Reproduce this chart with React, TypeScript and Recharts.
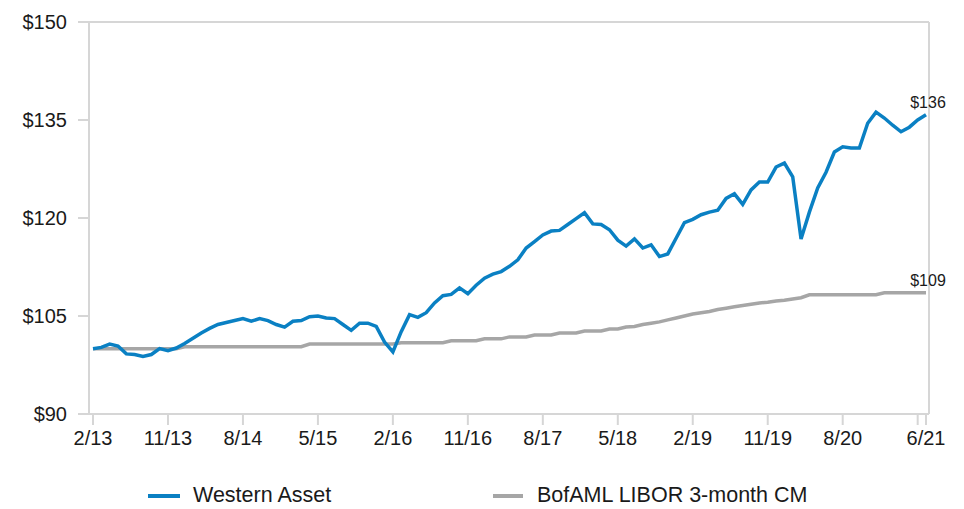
import React from 'react';
import { LineChart, Line, XAxis, YAxis, Legend, CartesianGrid } from 'recharts';

// month labels 2/13 .. 6/21
const months: string[] = [];
for (let y = 2013, m = 2; y < 2021 || (y === 2021 && m <= 6); m++) {
  if (m > 12) { m = 1; y++; }
  months.push(`${m}/${String(y).slice(2)}`);
}

const westernAsset = [
  100.0, 100.2, 100.7, 100.4, 99.2, 99.1, 98.8, 99.1, 100.0, 99.7,
  100.1, 100.8, 101.6, 102.4, 103.1, 103.7, 104.0, 104.3, 104.6, 104.2,
  104.6, 104.3, 103.7, 103.3, 104.2, 104.3, 104.9, 105.0, 104.7, 104.6,
  103.7, 102.8, 103.9, 103.9, 103.4, 101.0, 99.5, 102.6, 105.2, 104.8,
  105.5, 107.0, 108.1, 108.3, 109.3, 108.4, 109.7, 110.8, 111.4, 111.8,
  112.6, 113.6, 115.4, 116.4, 117.4, 118.0, 118.1, 119.0, 119.9, 120.8,
  119.1, 119.0, 118.2, 116.6, 115.7, 116.8, 115.4, 115.9, 114.1, 114.5,
  116.9, 119.3, 119.8, 120.5, 120.9, 121.2, 123.0, 123.7, 122.1, 124.3,
  125.5, 125.5, 127.8, 128.4, 126.3, 116.8, 120.9, 124.6, 127.0, 130.1,
  130.9, 130.7, 130.7, 134.5, 136.2, 135.3, 134.2, 133.2, 133.9, 135.0,
  135.8,
];

const libor = [
  100.0, 100.0, 100.0, 100.0, 100.0, 100.0, 100.0, 100.0, 100.0, 100.0,
  100.0, 100.3, 100.3, 100.3, 100.3, 100.3, 100.3, 100.3, 100.3, 100.3,
  100.3, 100.3, 100.3, 100.3, 100.3, 100.3, 100.7, 100.7, 100.7, 100.7,
  100.7, 100.7, 100.7, 100.7, 100.7, 100.7, 100.7, 100.9, 100.9, 100.9,
  100.9, 100.9, 100.9, 101.2, 101.2, 101.2, 101.2, 101.5, 101.5, 101.5,
  101.8, 101.8, 101.8, 102.1, 102.1, 102.1, 102.4, 102.4, 102.4, 102.7,
  102.7, 102.7, 103.0, 103.0, 103.3, 103.4, 103.7, 103.9, 104.1, 104.4,
  104.7, 105.0, 105.3, 105.5, 105.7, 106.0, 106.2, 106.4, 106.6, 106.8,
  107.0, 107.1, 107.3, 107.4, 107.6, 107.8, 108.25, 108.25, 108.25, 108.25,
  108.25, 108.25, 108.25, 108.25, 108.25, 108.55, 108.55, 108.55, 108.55, 108.55,
  108.55,
];

const xTicks = ['2/13', '11/13', '8/14', '5/15', '2/16', '11/16', '8/17', '5/18', '2/19', '11/19', '8/20', '5/21', '6/21'];
const yTicks = [90, 105, 120, 135, 150];

const data = months.map((m, i) => ({ month: m, wa: westernAsset[i], libor: libor[i] }));

const BLUE = '#0a80c3';
const GRAY = '#a6a6a6';
const AXIS = '#d6d6d6';
const FONT = '"Liberation Sans", Arial, sans-serif';

const endLabel = (props: any) => {
  if (props.index !== data.length - 1) return <g />;
  return (
    <text x={props.x + 2} y={props.y - 7} textAnchor="middle" fontSize={16} fill="#1a1a1a" fontFamily={FONT}>
      ${Math.round(props.value)}
    </text>
  );
};

const LegendBox = () => (
  <div style={{ position: 'relative', height: 29, fontFamily: FONT, fontSize: 21.5, color: '#1a1a1a' }}>
    <div style={{ position: 'absolute', left: 140, top: 14, width: 32, height: 4, background: BLUE }} />
    <span style={{ position: 'absolute', left: 185, top: 3 }}>Western Asset</span>
    <div style={{ position: 'absolute', left: 485, top: 14, width: 30, height: 4, background: GRAY }} />
    <span style={{ position: 'absolute', left: 529, top: 3 }}>BofAML LIBOR 3-month CM</span>
  </div>
);

export default function App() {
  return (
    <LineChart width={956} height={501} data={data} margin={{ top: 14, right: 35, bottom: 0, left: 0 }}>
      {/* top and right frame lines of the plot box */}
      <CartesianGrid
        stroke={AXIS}
        strokeWidth={2}
        horizontalCoordinatesGenerator={({ offset }: any) => [offset.top]}
        verticalCoordinatesGenerator={({ offset }: any) => [offset.left + offset.width]}
      />
      <XAxis
        dataKey="month"
        ticks={xTicks}
        interval={0}
        tickFormatter={(v: string) => (v === '5/21' ? '' : v)}
        padding={{ left: 4, right: 3 }}
        height={66}
        tickSize={11}
        tickMargin={6}
        stroke={AXIS}
        strokeWidth={2}
        tick={{ fill: '#1a1a1a', fontSize: 20, fontFamily: FONT }}
      />
      <YAxis
        domain={[90, 150]}
        ticks={yTicks}
        width={81}
        tickSize={11}
        tickMargin={11}
        stroke={AXIS}
        strokeWidth={2}
        tickFormatter={(v: number) => `$${v}`}
        tick={{ fill: '#1a1a1a', fontSize: 20, fontFamily: FONT }}
      />
      <Legend verticalAlign="bottom" content={<LegendBox />} />
      <Line type="linear" dataKey="libor" stroke={GRAY} strokeWidth={3.5} dot={false} isAnimationActive={false} label={endLabel} />
      <Line type="linear" dataKey="wa" stroke={BLUE} strokeWidth={3.5} dot={false} isAnimationActive={false} label={endLabel} />
    </LineChart>
  );
}
